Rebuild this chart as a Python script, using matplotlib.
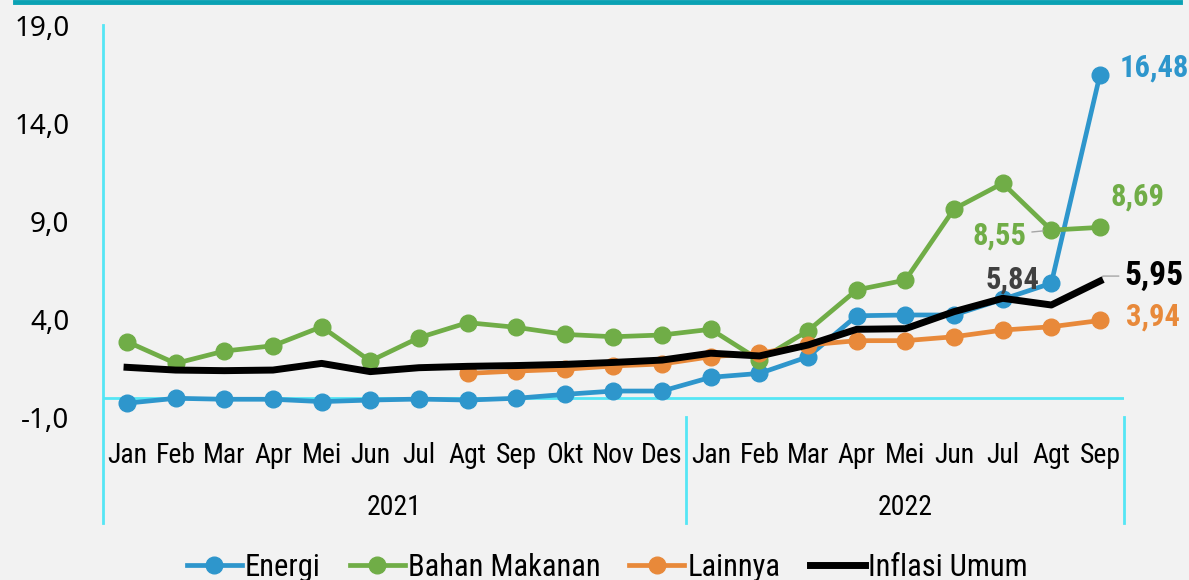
import matplotlib
matplotlib.use("Agg")
import matplotlib.pyplot as plt
from matplotlib.lines import Line2D
import numpy as np

months = ["Jan", "Feb", "Mar", "Apr", "Mei", "Jun", "Jul", "Agt", "Sep", "Okt", "Nov", "Des",
          "Jan", "Feb", "Mar", "Apr", "Mei", "Jun", "Jul", "Agt", "Sep"]
years = ["2021", "2022"]
year_counts = [12, 9]

energi = [-0.28, -0.03, -0.08, -0.08, -0.20, -0.12, -0.07, -0.12, -0.03, 0.17, 0.34, 0.34,
          1.04, 1.24, 2.09, 4.18, 4.22, 4.22, 5.02, 5.84, 16.48]
bahan = [2.86, 1.75, 2.38, 2.65, 3.62, 1.87, 3.06, 3.83, 3.59, 3.23, 3.11, 3.20,
         3.49, 1.92, 3.42, 5.50, 6.00, 9.63, 10.94, 8.55, 8.69]
lainnya = [np.nan] * 7 + [1.24, 1.36, 1.45, 1.62, 1.72,
                          2.09, 2.27, 2.69, 2.91, 2.91, 3.11, 3.45, 3.62, 3.94]
umum = [1.55, 1.41, 1.38, 1.41, 1.75, 1.33, 1.53, 1.60, 1.64, 1.70, 1.80, 1.92,
        2.27, 2.13, 2.69, 3.49, 3.52, 4.39, 5.07, 4.73, 5.95]

C_BLUE = "#2e96cc"
C_GREEN = "#70ad47"
C_ORANGE = "#e8893a"
C_BLACK = "#000000"
C_AXIS = "#55e6f5"
BG = "#f2f2f2"

NARROW = ["Roboto Condensed", "Archivo Narrow", "DejaVu Sans"]

fig = plt.figure(figsize=(11.89, 5.80), dpi=100, facecolor=BG)
ax = fig.add_axes([102.7 / 1189, (580 - 417.3) / 580, 1021.6 / 1189, 392.0 / 580])
ax.set_facecolor(BG)

x = np.arange(len(months))
ax.plot(x, energi, color=C_BLUE, lw=3.4, marker="o", ms=12, label="Energi", zorder=3)
ax.plot(x, bahan, color=C_GREEN, lw=3.4, marker="o", ms=12, label="Bahan Makanan", zorder=3)
ax.plot(x, lainnya, color=C_ORANGE, lw=3.4, marker="o", ms=12, label="Lainnya", zorder=3)
ax.plot(x, umum, color=C_BLACK, lw=5, label="Inflasi Umum", zorder=4)

ax.set_xlim(-0.5, len(months) - 0.5)
ax.set_ylim(-1, 19)
for s in ax.spines.values():
    s.set_visible(False)

ax.set_yticks([-1, 4, 9, 14, 19])
ax.set_yticklabels([f"{v:.1f}".replace(".", ",") for v in [-1, 4, 9, 14, 19]],
                   fontsize=20, family="Noto Sans")
ax.tick_params(axis="y", length=0, pad=24)
ax.set_xticks(x)
ax.set_xticklabels(months, fontsize=20, family=NARROW)
ax.tick_params(axis="x", length=0, pad=18)

# axis lines
ax.axhline(0, color=C_AXIS, lw=2, zorder=1)
sep_bottom = (417.3 - 523) / 392.0
ax.add_line(Line2D([0, 0], [1, sep_bottom], transform=ax.transAxes, color=C_AXIS, lw=2, clip_on=False))
trans = ax.get_xaxis_transform()
edge = -0.5
for cnt in year_counts:
    edge += cnt
    ax.add_line(Line2D([edge, edge], [0, sep_bottom], transform=trans, color=C_AXIS, lw=2, clip_on=False))

# year labels
start = -0.5
for yr, cnt in zip(years, year_counts):
    ax.text(start + cnt / 2, -0.23, yr, transform=trans, ha="center", va="center",
            fontsize=20, family=NARROW)
    start += cnt

# data labels
bold = dict(fontsize=22, fontweight="bold", family=NARROW, ha="center", va="center",
            textcoords="offset pixels")
ax.annotate("16,48", (20, energi[20]), xytext=(54, 7), color=C_BLUE, **bold)
ax.annotate("8,69", (20, bahan[20]), xytext=(38, 31), color=C_GREEN, **bold)
ax.annotate("8,55", (19, bahan[19]), xytext=(-52, -5), color=C_GREEN,
            arrowprops=dict(arrowstyle="-", color="#a6a6a6", lw=1, shrinkA=2, shrinkB=6), **bold)
ax.annotate("5,84", (19, energi[19]), xytext=(-39, 4), color="#404040", **bold)
b2 = dict(bold)
b2["fontsize"] = 24
ax.annotate("5,95", (20, umum[20]), xytext=(54, 5), color=C_BLACK,
            arrowprops=dict(arrowstyle="-", color="#a6a6a6", lw=1, shrinkA=2, shrinkB=3,
                            connectionstyle="angle,angleA=0,angleB=60,rad=0"), **b2)
ax.annotate("3,94", (20, lainnya[20]), xytext=(53, 4), color=C_ORANGE, **bold)

leg = fig.legend(loc="center", bbox_to_anchor=(607 / 1189, 13 / 580), ncol=4, frameon=False,
                 prop=dict(family=NARROW, size=22), handlelength=1.8, handletextpad=0.1,
                 columnspacing=0.95)

# top teal border
fig.add_artist(Line2D([15 / 1189, 1180 / 1189], [1 - 1.5 / 580, 1 - 1.5 / 580],
                      transform=fig.transFigure, color="#0aa2b4", lw=3.5))

fig.savefig("out.png", dpi=100, facecolor=BG)
